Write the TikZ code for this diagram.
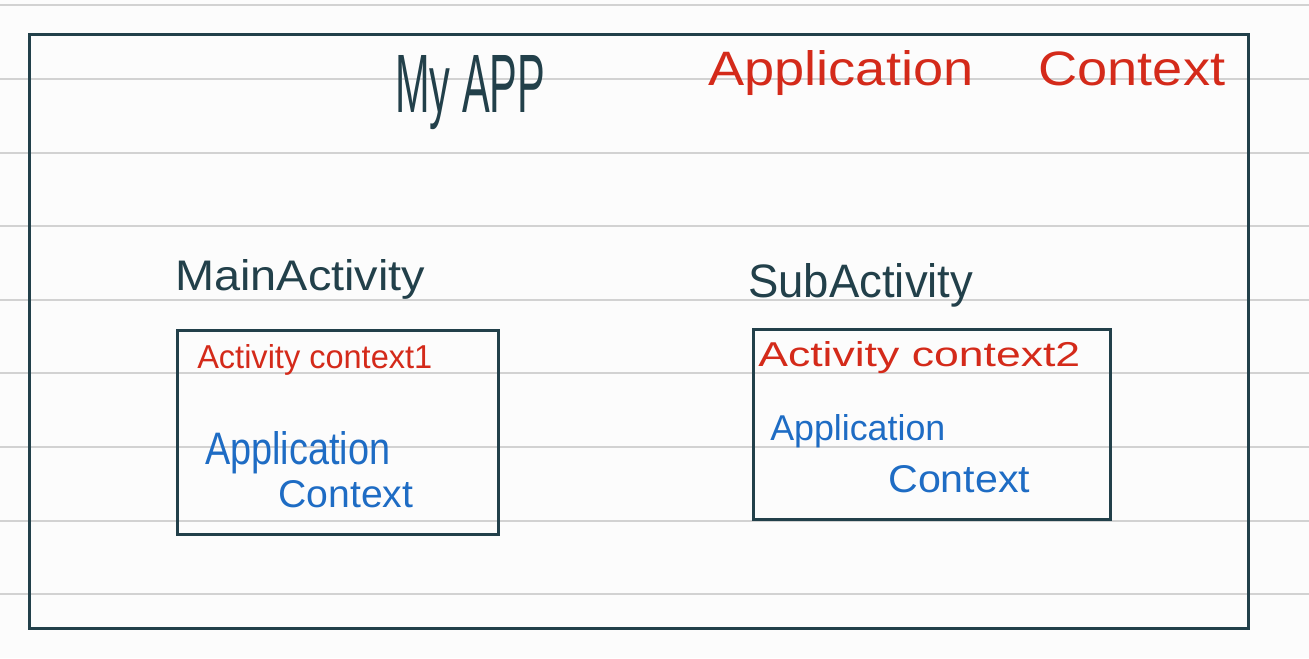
\documentclass[tikz,border=0pt]{standalone}
\usepackage{fontspec}
\usepackage{graphicx}
\setmainfont{Liberation Sans}
\definecolor{ink}{HTML}{22404A}
\definecolor{redink}{HTML}{D42A1A}
\definecolor{blueink}{HTML}{1E6CC4}
\definecolor{paper}{HTML}{FCFCFC}
\definecolor{rule}{HTML}{D2D2D2}
\newcommand{\fitto}[3]{\resizebox{#1\dimexpr0.75pt\relax}{#2\dimexpr0.75pt\relax}{#3}}
\begin{document}
\begin{tikzpicture}[x=0.75pt,y=-0.75pt,
  ruling/.style={draw=rule,line width=1.5pt},
  frame/.style={draw=ink,line width=2.2pt},
  box/.style={draw=ink,line width=1.9pt},
  txt/.style={inner sep=0pt,anchor=base west},
  dark/.style={txt,text=ink},
  red/.style={txt,text=redink},
  blue/.style={txt,text=blueink}]
\fill[paper] (0,0) rectangle (1309,658);
\useasboundingbox (0,0) rectangle (1309,658);
\foreach \k in {0,...,8}{
  \draw[ruling] (0,{5.3+73.6*\k}) -- (1309,{5.3+73.6*\k});
}
% outer frame
\node[frame,inner sep=0pt,minimum width=1219*0.75pt,minimum height=594*0.75pt,anchor=north west] (app) at (28,33) {};
% inner boxes
\node[box,inner sep=0pt,minimum width=321*0.75pt,minimum height=204*0.75pt,anchor=north west] (main) at (176,329) {};
\node[box,inner sep=0pt,minimum width=357*0.75pt,minimum height=190*0.75pt,anchor=north west] (sub) at (752,328) {};
% texts
\node[dark] (myapp) at (395,112) {\fitto{150}{57}{My APP}};
\node[red] (appctx) at (708,85) {\fitto{517}{35}{Application\hspace{1.2em}Context}};
\node[dark] (mainact) at (175,290) {\fitto{250}{31}{MainActivity}};
\node[dark] (subact) at (748,297) {\fitto{225}{34}{SubActivity}};
\node[red] (actctx1) at (197,368) {\fitto{235}{24}{Activity context1}};
\node[red] (actctx2) at (758,366) {\fitto{322}{25}{Activity context2}};
\node[blue] (app1) at (205,464) {\fitto{185}{33}{Application}};
\node[blue] (ctx1) at (278,507) {\fitto{135}{27}{Context}};
\node[blue] (app2) at (770,440) {\fitto{175}{26}{Application}};
\node[blue] (ctx2) at (888,492) {\fitto{142}{27}{Context}};
\end{tikzpicture}
\end{document}
